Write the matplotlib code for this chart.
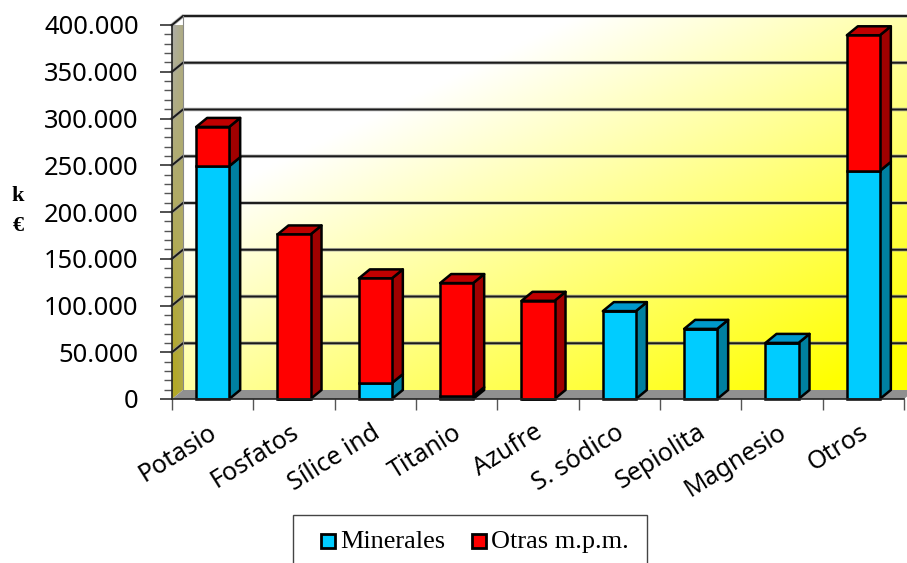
import numpy as np
import matplotlib
matplotlib.use('Agg')
from matplotlib import pyplot as plt
from matplotlib.patches import Polygon, Rectangle
from matplotlib.ticker import MultipleLocator, FuncFormatter

categories = ['Potasio', 'Fosfatos', 'Sílice ind', 'Titanio', 'Azufre',
              'S. sódico', 'Sepiolita', 'Magnesio', 'Otros']
minerales = [249000, 0, 17000, 3000, 0, 94000, 75000, 60000, 244000]
otras = [42000, 176000, 112000, 121000, 105000, 0, 0, 0, 145000]
y_max = 400000
y_step = 50000

BLUE = '#00CCFF'
RED = '#FF0000'
BLUE_SIDE = '#0080A0'
RED_SIDE = '#A00000'
BLUE_TOP = '#0099CC'
RED_TOP = '#C00000'

W, H = 907, 563
fig = plt.figure(figsize=(W / 100, H / 100), dpi=100)
ax = fig.add_axes([172 / W, (H - 399) / H, 732 / W, 374 / H])
ax.set_xlim(-0.5, 8.5)
ax.set_ylim(0, y_max)

# depth of the fake 3D box, in data units
dx = 11 / (732 / 9)
dy = 9 / 374 * y_max
x0, x1 = -0.5, 8.5
bar_w = 0.406

# back wall gradient, white at the top left to yellow at the bottom right
v, u = np.mgrid[0:1:200j, 0:1:300j]
t = np.clip(0.725 * u + 0.758 * v - 0.39, 0, 1)
wall = np.ones((200, 300, 3))
wall[..., 2] = 1 - t
ax.imshow(wall, extent=[x0 + dx, x1 + dx, dy, y_max + dy], origin='upper',
          aspect='auto', zorder=0, clip_on=False)

# left side wall, grey at the top going to olive at the bottom
rows, cols = np.mgrid[0:1:100j, 0:1:40j]
mix = np.clip(1.15 * rows - 0.15 + 0.35 * cols * (1 - rows) - 0.3 * cols * rows, 0, 1)[..., None]
olive = np.array([0.70, 0.66, 0.16])
grey = np.array([0.68, 0.68, 0.68])
side = olive * (1 - mix) + grey * mix
im = ax.imshow(side, extent=[x0, x0 + dx, 0, y_max + dy], origin='lower',
               aspect='auto', zorder=0.5, clip_on=True)
im.set_clip_path(Polygon([(x0, 0), (x0 + dx, dy), (x0 + dx, y_max + dy), (x0, y_max)],
                         closed=True, transform=ax.transData))
ax.set_xlim(x0, x1)
ax.set_ylim(0, y_max)

# floor
ax.add_patch(Polygon([(x0, 0), (x0 + dx, dy), (x1 + dx, dy), (x1, 0)], closed=True,
                     fc='#909090', ec='none', zorder=1, clip_on=False))

# grid lines run up the side wall and across the back wall, with a soft grey edge
for val in range(y_step, y_max + 1, y_step):
    ax.plot([x0, x0 + dx, x1 + dx], [val, val + dy, val + dy], color='#999999',
            lw=2.6, alpha=0.7, zorder=1.5, clip_on=False, solid_joinstyle='miter')
    ax.plot([x0, x0 + dx, x1 + dx], [val, val + dy, val + dy], color='#1A1A1A',
            lw=1.4, zorder=2, clip_on=False, solid_joinstyle='miter')
ax.plot([x0 + dx, x0 + dx], [dy, y_max + dy], color='#888888', lw=0.8, zorder=2,
        clip_on=False)


def box_faces(xc, low, high, side_col, top_col=None):
    # side face and optional top face of one stacked segment
    xr = xc + bar_w / 2
    xl = xc - bar_w / 2
    ax.add_patch(Polygon([(xr, low), (xr + dx, low + dy), (xr + dx, high + dy), (xr, high)],
                         closed=True, fc=side_col, ec='black', lw=1.8, zorder=3,
                         clip_on=False, joinstyle='round'))
    if top_col:
        ax.add_patch(Polygon([(xl, high), (xl + dx, high + dy), (xr + dx, high + dy), (xr, high)],
                             closed=True, fc=top_col, ec='black', lw=1.8, zorder=3,
                             clip_on=False, joinstyle='round'))


xpos = np.arange(len(categories))
for i in xpos:
    m, o = minerales[i], otras[i]
    if m > 0:
        box_faces(i, 0, m, BLUE_SIDE, BLUE_TOP if o == 0 else None)
    if o > 0:
        box_faces(i, m, m + o, RED_SIDE, RED_TOP)

ax.bar(xpos, minerales, bar_w, color=BLUE, edgecolor='black', lw=1.8, zorder=4, clip_on=False)
ax.bar(xpos, otras, bar_w, bottom=minerales, color=RED, edgecolor='black', lw=1.8, zorder=4,
       clip_on=False)

for name in ['top', 'right']:
    ax.spines[name].set_visible(False)
for name in ['left', 'bottom']:
    ax.spines[name].set_linewidth(1.2)
    ax.spines[name].set_color('#222222')
    ax.spines[name].set_zorder(5)

ax.yaxis.set_major_locator(MultipleLocator(y_step))
ax.yaxis.set_minor_locator(MultipleLocator(10000))
ax.yaxis.set_major_formatter(FuncFormatter(lambda val, pos: f'{int(val):,}'.replace(',', '.')))
ax.tick_params(axis='y', which='major', length=9, width=1.1, labelsize=18.4, pad=15,
               color='#222222')
ax.tick_params(axis='y', which='minor', length=6, width=1.0, color='#555555')
for lab in ax.get_yticklabels():
    lab.set_family('Noto Sans')

# ticks sit on the category boundaries, labels on the centres
ax.set_xticks(np.arange(-0.5, 9, 1))
ax.set_xticklabels([])
ax.tick_params(axis='x', which='major', length=8, width=1.0, color='#555555')
for i, name in enumerate(categories):
    ax.annotate(name, xy=(i, 0), xycoords=('data', 'axes fraction'), xytext=(-3, -15),
                textcoords='offset points', rotation=32, ha='right', va='top',
                rotation_mode='anchor', fontsize=18, family='Noto Sans', color='black',
                annotation_clip=False)

fig.text(18 / W, 1 - 196 / H, 'k', family='Liberation Serif', weight='bold', fontsize=16,
         ha='center', va='center')
fig.text(18 / W, 1 - 226 / H, '€', family='Liberation Serif', weight='bold', fontsize=16,
         ha='center', va='center')

# legend box runs past the bottom of the canvas, so it is laid out by hand
fig.add_artist(Rectangle((293 / W, -0.05), 354 / W, 0.05 + (H - 515) / H,
                         transform=fig.transFigure, fc='white', ec='#444444', lw=1.0))
for px, col, label in [(321, BLUE, 'Minerales'), (472, RED, 'Otras m.p.m.')]:
    fig.add_artist(Rectangle((px / W, 1 - 548 / H), 14 / W, 14 / H,
                             transform=fig.transFigure, fc=col, ec='black', lw=2.0))
    fig.text((px + 19) / W, 1 - 542 / H, label, family='Liberation Serif', fontsize=18.9,
             ha='left', va='center')

plt.savefig('out.png', dpi=100)
